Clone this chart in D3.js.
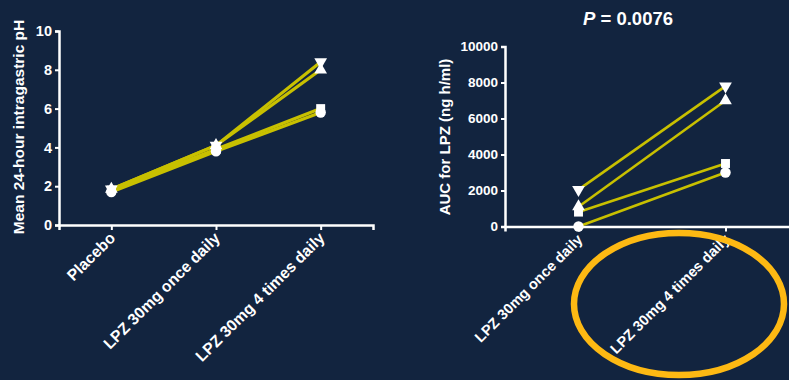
<!DOCTYPE html>
<html>
<head>
<meta charset="utf-8">
<script src="https://cdn.jsdelivr.net/npm/d3@7"></script>
<style>
  html, body { margin: 0; padding: 0; background: #12243f; }
  svg { display: block; }
  text { font-family: "Liberation Sans", Arial, sans-serif; font-weight: bold; fill: #ffffff; }
</style>
</head>
<body>
<svg id="chart" width="789" height="380"></svg>
<script>
// Treatment groups for each panel
const phGroups = ["Placebo", "LPZ 30mg once daily", "LPZ 30mg 4 times daily"];
const aucGroups = ["LPZ 30mg once daily", "LPZ 30mg 4 times daily"];

// One entry per subject (marker shape), values per group
const subjects = ["circle", "square", "triangleUp", "triangleDown"];
const phCircle = [1.7, 3.8, 5.8];
const phSquare = [1.8, 3.9, 6.0];
const phTriangleUp = [1.85, 4.1, 8.0];
const phTriangleDown = [1.85, 4.1, 8.4];

const aucCircle = [0, 3000];
const aucSquare = [800, 3500];
const aucTriangleUp = [1100, 7000];
const aucTriangleDown = [2050, 7800];

const phTicks = [0, 2, 4, 6, 8, 10];
const aucTicks = [0, 2000, 4000, 6000, 8000, 10000];
const pLabel = "0.0076";

const phSeries = [phCircle, phSquare, phTriangleUp, phTriangleDown];
const aucSeries = [aucCircle, aucSquare, aucTriangleUp, aucTriangleDown];

const lineColor = "#c8c000";
const svg = d3.select("#chart");

const symbolFor = {
  circle: d3.symbol().type(d3.symbolCircle).size(85),
  square: d3.symbol().type(d3.symbolSquare).size(80),
  triangleUp: d3.symbol().type(d3.symbolTriangle).size(70),
  triangleDown: d3.symbol().type(d3.symbolTriangle).size(70)
};

function panel(opts) {
  const g = svg.append("g");
  const x = d3.scalePoint().domain(opts.groups).range(opts.xRange).padding(0.5);
  const y = d3.scaleLinear().domain([0, opts.max]).range(opts.yRange);

  // Axes
  const yAxis = d3.axisLeft(y).tickValues(opts.ticks).tickSize(4).tickPadding(3).tickFormat(d3.format("d"));
  const gy = g.append("g").attr("transform", `translate(${opts.xRange[0]},0)`).call(yAxis);
  const xAxis = d3.axisBottom(x).tickSize(5).tickFormat("");
  const gx = g.append("g").attr("transform", `translate(0,${opts.yRange[0]})`).call(xAxis);
  [gx, gy].forEach(a => {
    a.select(".domain").attr("stroke", "#fff").attr("stroke-width", 2.5);
    a.selectAll(".tick line").attr("stroke", "#fff").attr("stroke-width", 2);
  });
  gy.selectAll(".tick text").attr("font-size", opts.tickSize).attr("fill", "#fff")
    .style("font-family", "Liberation Sans, Arial, sans-serif").style("font-weight", "bold");

  // Rotated category labels
  g.selectAll(".cat").data(opts.groups).join("text")
    .attr("class", "cat")
    .attr("text-anchor", "end")
    .attr("font-size", opts.catSize)
    .attr("transform", d => `translate(${x(d) + 5},${opts.yRange[0] + 14}) rotate(-45)`)
    .text(d => d);

  // Y axis title
  g.append("text")
    .attr("text-anchor", "middle")
    .attr("font-size", opts.titleSize)
    .attr("transform", `translate(${opts.titleX},${opts.titleY}) rotate(-90)`)
    .text(opts.title);

  // Subject lines and markers
  const line = d3.line().x((d, i) => x(opts.groups[i])).y(d => y(d));
  opts.series.forEach((vals, k) => {
    g.append("path").datum(vals)
      .attr("d", line)
      .attr("fill", "none")
      .attr("stroke", lineColor)
      .attr("stroke-width", opts.lineWidth);
  });
  opts.series.forEach((vals, k) => {
    const shape = subjects[k];
    g.selectAll(null).data(vals).join("path")
      .attr("d", symbolFor[shape])
      .attr("fill", "#fff")
      .attr("transform", (d, i) => {
        const rot = shape === "triangleDown" ? " rotate(180)" : "";
        return `translate(${x(opts.groups[i])},${y(d)})${rot}`;
      });
  });
  return { x, y };
}

panel({
  groups: phGroups, series: phSeries, ticks: phTicks, max: 10,
  xRange: [59, 373], yRange: [225, 31], lineWidth: 3.2, tickSize: 14.5, catSize: 15.8,
  title: "Mean 24-hour intragastric pH", titleX: 24, titleY: 127, titleSize: 15.5
});

panel({
  groups: aucGroups, series: aucSeries, ticks: aucTicks, max: 10000,
  xRange: [505, 799], yRange: [226.5, 46.5], lineWidth: 2.6, tickSize: 13.5, catSize: 14.6,
  title: "AUC for LPZ (ng h/ml)", titleX: 450, titleY: 137, titleSize: 15
});

// P value heading
const pText = svg.append("text")
  .attr("x", 628).attr("y", 25)
  .attr("text-anchor", "middle")
  .attr("font-size", 18.5);
pText.append("tspan").attr("font-style", "italic").text("P");
pText.append("tspan").text(" = " + pLabel);

// Highlight ring around the 4-times-daily label
svg.append("ellipse")
  .attr("cx", 679).attr("cy", 304)
  .attr("rx", 105).attr("ry", 71)
  .attr("fill", "none")
  .attr("stroke", "#fdb913")
  .attr("stroke-width", 6.5);
</script>
</body>
</html>
